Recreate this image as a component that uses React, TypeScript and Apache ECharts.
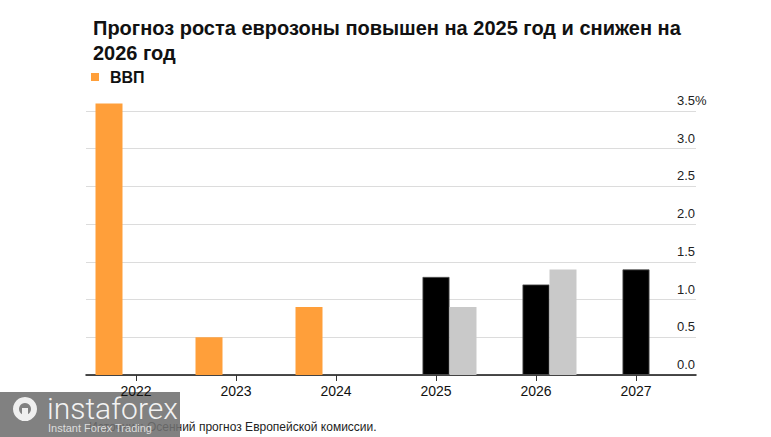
import React, { useEffect, useRef } from "react";
import * as echarts from "echarts";

const years = ["2022", "2023", "2024", "2025", "2026", "2027"];
const gdpActual = [3.6, 0.5, 0.9, null, null, null];
const forecastNew = [null, null, null, 1.3, 1.2, 1.4];
const forecastOld = [null, null, null, 0.9, 1.4, null];
const yMin = 0;
const yMax = 3.5;
const yStep = 0.5;

const FONT = "'Liberation Sans', Arial, sans-serif";

export default function App() {
  const ref = useRef<HTMLDivElement>(null);
  useEffect(() => {
    if (!ref.current) return;
    const chart = echarts.init(ref.current, null, { renderer: "svg" });
    chart.setOption({
      animation: false,
      backgroundColor: "#ffffff",
      textStyle: { fontFamily: FONT },
      title: {
        text: "Прогноз роста еврозоны повышен на 2025 год и снижен на\n2026 год",
        left: 88,
        top: 10,
        textStyle: {
          fontFamily: FONT,
          fontSize: 20,
          fontWeight: "bold",
          lineHeight: 25,
          color: "#111",
        },
      },
      legend: {
        data: ["ВВП"],
        left: 86,
        top: 64,
        icon: "rect",
        itemWidth: 8,
        itemHeight: 8,
        itemGap: 10,
        textStyle: {
          fontFamily: FONT,
          fontSize: 16,
          fontWeight: "bold",
          color: "#111",
          padding: [0, 0, 0, 6],
        },
      },
      grid: [
        { left: 86, right: 75, top: 111, bottom: 62 },
        { left: 86, right: 85, top: 111, bottom: 62 },
      ],
      xAxis: [
        {
          type: "value",
          gridIndex: 0,
          min: 0,
          max: 1,
          axisLine: { show: true, lineStyle: { color: "#111", width: 1.5 } },
          axisTick: { show: false },
          axisLabel: { show: false },
          splitLine: { show: false },
        },
        {
          type: "category",
          gridIndex: 1,
          data: years,
          axisLine: { show: false },
          axisTick: { show: true, alignWithLabel: true, length: 6, lineStyle: { color: "#333" } },
          axisLabel: { fontFamily: FONT, fontSize: 14, color: "#111", margin: 9 },
        },
      ],
      yAxis: [
        {
          type: "value",
          gridIndex: 0,
          position: "right",
          min: yMin,
          max: yMax,
          interval: yStep,
          axisLine: { show: false },
          axisTick: { show: false },
          splitLine: { show: true, lineStyle: { color: "#dcdcdc", width: 1.2 } },
          axisLabel: {
            inside: true,
            align: "left",
            verticalAlign: "bottom",
            margin: 19,
            padding: [0, 0, 4, 0],
            fontFamily: FONT,
            fontSize: 13,
            color: "#222",
            formatter: (v: number) => (v === yMax ? v.toFixed(1) + "%" : v.toFixed(1)),
          },
        },
        {
          type: "value",
          gridIndex: 1,
          min: yMin,
          max: yMax,
          interval: yStep,
          show: false,
          splitLine: { show: false },
        },
      ],
      series: [
        {
          name: "ВВП",
          type: "bar",
          xAxisIndex: 1,
          yAxisIndex: 1,
          data: gdpActual,
          barWidth: 27,
          barGap: "0%",
          clip: false,
          itemStyle: { color: "#ff9f3a" },
        },
        {
          name: "Новый прогноз",
          type: "bar",
          xAxisIndex: 1,
          yAxisIndex: 1,
          data: forecastNew,
          barWidth: 27,
          barGap: "0%",
          clip: false,
          itemStyle: { color: "#000000", borderColor: "#555", borderWidth: 0.8 },
        },
        {
          name: "Прежний прогноз",
          type: "bar",
          xAxisIndex: 1,
          yAxisIndex: 1,
          data: forecastOld,
          barWidth: 27,
          barGap: "0%",
          clip: false,
          itemStyle: { color: "#c9c9c9" },
        },
      ],
      graphic: [
        {
          type: "text",
          left: 89,
          top: 421,
          style: {
            text: "Источник: Осенний прогноз Европейской комиссии.",
            font: "12px " + FONT,
            fill: "#222",
          },
        },
        {
          type: "rect",
          shape: { x: 0, y: 392, width: 180, height: 45 },
          style: { fill: "rgba(112,112,112,0.88)" },
        },
        {
          type: "ring",
          shape: { cx: 25, cy: 409, r: 12, r0: 6 },
          style: { fill: "#efefef" },
        },
        {
          type: "rect",
          shape: { x: 22, y: 408, width: 6, height: 13 },
          style: { fill: "#efefef" },
        },
        {
          type: "text",
          left: 47,
          top: 393,
          style: {
            text: "instaforex",
            font: "300 30px Roboto, 'Open Sans', sans-serif",
            fill: "#f2f2f2",
          },
        },
        {
          type: "text",
          left: 48,
          top: 422,
          style: {
            text: "Instant Forex Trading",
            font: "11px 'Liberation Sans', Arial, sans-serif",
            fill: "#dddddd",
          },
        },
      ],
    });
    return () => chart.dispose();
  }, []);
  return <div ref={ref} style={{ width: 771, height: 437, position: "absolute", left: 0, top: 0 }} />;
}
